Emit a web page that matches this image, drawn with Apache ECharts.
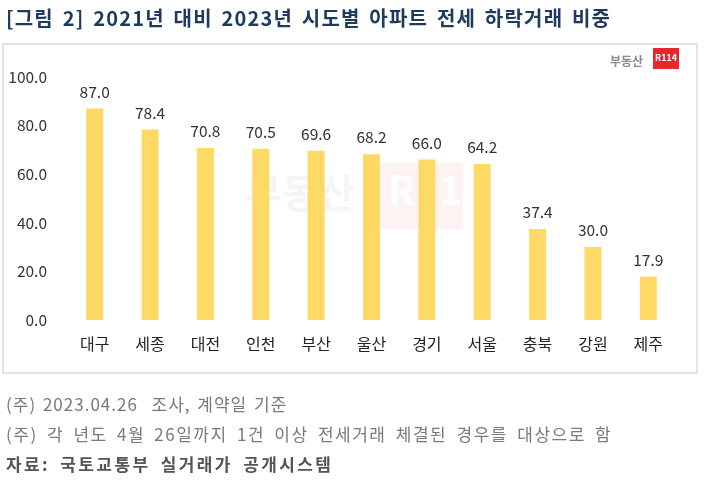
<!DOCTYPE html>
<html>
<head>
<meta charset="utf-8">
<script src="https://cdn.jsdelivr.net/npm/echarts@6/dist/echarts.min.js"></script>
<style>
  html, body { margin: 0; padding: 0; background: #fff; }
  .wrap { position: relative; width: 710px; height: 488px; }
  #chart { width: 710px; height: 488px; }
  .txt { position: absolute; left: 6px; white-space: nowrap;
         font-family: "Noto Sans CJK KR", "Noto Sans", sans-serif; }
  .title { top: 3px; font-size: 20px; font-weight: bold; color: #1f3a5f; letter-spacing: 1.2px; word-spacing: 3px; }
  .note { font-size: 17px; color: #7a7a7a; letter-spacing: 1.5px; word-spacing: 4px; }
  .src { font-weight: bold; color: #555; letter-spacing: 2.4px; }
</style>
</head>
<body>
<div class="wrap">
  <div id="chart"></div>
  <div class="txt title">[그림 2] 2021년 대비 2023년 시도별 아파트 전세 하락거래 비중</div>
  <div class="txt note" style="top:391px; letter-spacing:1px; word-spacing:2px">(주) 2023.04.26 &nbsp;조사, 계약일 기준</div>
  <div class="txt note" style="top:421px">(주) 각 년도 4월 26일까지 1건 이상 전세거래 체결된 경우를 대상으로 함</div>
  <div class="txt note src" style="top:451px">자료: 국토교통부 실거래가 공개시스템</div>
</div>
<script>
// 시도별 하락거래 비중 (%)
const regions = ['대구', '세종', '대전', '인천', '부산', '울산', '경기', '서울', '충북', '강원', '제주'];
const shares = [87.0, 78.4, 70.8, 70.5, 69.6, 68.2, 66.0, 64.2, 37.4, 30.0, 17.9];
const yTicks = [0, 20, 40, 60, 80, 100];

const FONT = '"Noto Sans CJK KR", "Noto Sans", sans-serif';
const chart = echarts.init(document.getElementById('chart'));

const option = {
  backgroundColor: '#fff',
  animation: false,
  grid: { left: 67, right: 34, top: 77, bottom: 168 },
  xAxis: {
    type: 'category',
    data: regions,
    axisLine: { show: false },
    axisTick: { show: false },
    axisLabel: { fontFamily: FONT, fontSize: 16, color: '#222', margin: 16 }
  },
  yAxis: {
    type: 'value',
    min: yTicks[0],
    max: yTicks[yTicks.length - 1],
    interval: 20,
    splitLine: { show: false },
    axisLine: { show: false },
    axisTick: { show: false },
    axisLabel: {
      fontFamily: FONT, fontSize: 15.5, color: '#333', margin: 20,
      formatter: v => v.toFixed(1)
    }
  },
  series: [{
    type: 'bar',
    data: shares,
    barWidth: 17,
    itemStyle: { color: '#ffd966' },
    label: {
      show: true,
      position: 'top',
      distance: 9,
      fontFamily: FONT,
      fontSize: 15.5,
      color: '#333',
      formatter: p => p.value.toFixed(1)
    },
    z: 3
  }],
  graphic: [
    // 차트 영역 테두리
    { type: 'rect', shape: { x: 3, y: 44, width: 694, height: 329 },
      style: { fill: 'none', stroke: '#e3e3e3', lineWidth: 2 }, z: 0 },
    // 워터마크
    { type: 'text', left: 245, top: 173, z: 1,
      style: { text: '부동산', font: 'bold 40px ' + FONT, fill: 'rgba(200,200,200,0.18)' } },
    { type: 'rect', shape: { x: 375, y: 163, width: 88, height: 66 }, z: 1,
      style: { fill: 'rgba(240,80,80,0.07)' } },
    { type: 'text', left: 388, top: 170, z: 1,
      style: { text: 'R114', font: 'bold 40px ' + FONT, fill: 'rgba(255,255,255,0.9)' } },
    // 로고
    { type: 'text', left: 610, top: 55,
      style: { text: '부동산', font: 'bold 12px ' + FONT, fill: '#8a8a8a' } },
    { type: 'rect', shape: { x: 653, y: 48, width: 26, height: 21 },
      style: { fill: '#e8262f' } },
    { type: 'text', left: 655, top: 53,
      style: { text: 'R114', font: 'bold 9px ' + FONT, fill: '#fff' } }
  ]
};

chart.setOption(option);
</script>
</body>
</html>
